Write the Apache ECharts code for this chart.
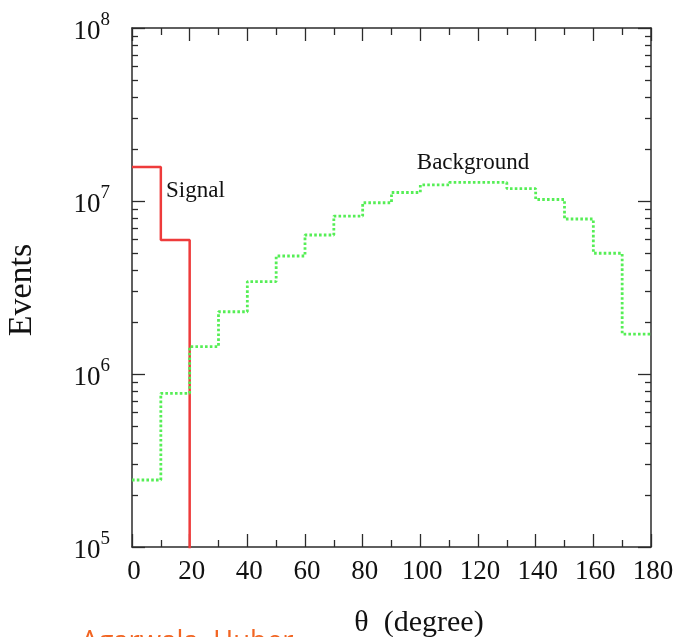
<!DOCTYPE html>
<html>
<head>
<meta charset="utf-8">
<script src="https://cdn.jsdelivr.net/npm/echarts@6/dist/echarts.min.js"></script>
<style>
html,body{margin:0;padding:0;background:#fff;}
#chart{width:681px;height:637px;}
</style>
</head>
<body>
<div id="chart"></div>
<script>
// bin edges (degrees) and counts per 10-degree bin
const binEdges = [0,10,20,30,40,50,60,70,80,90,100,110,120,130,140,150,160,170,180];
const backgroundCounts = [2.44e5, 7.73e5, 1.44e6, 2.29e6, 3.42e6, 4.81e6, 6.36e6, 8.18e6, 9.77e6,
  1.12e7, 1.24e7, 1.28e7, 1.28e7, 1.18e7, 1.02e7, 7.87e6, 4.99e6, 1.70e6];
const signalCounts = [1.57e7, 5.96e6, 0, 0, 0, 0, 0, 0, 0, 0, 0, 0, 0, 0, 0, 0, 0, 0];
const xTicks = [0,20,40,60,80,100,120,140,160,180];
const yMajorTicks = [1e5, 1e6, 1e7, 1e8];
const yMinorTicks = [];
[1e5, 1e6, 1e7].forEach(d => { for (let k = 2; k <= 9; k++) yMinorTicks.push(k * d); });

const FLOOR = 0.1; // empty bins drawn below the axis minimum (clipped)
function stepData(counts) {
  return binEdges.map((e, i) => {
    const v = counts[Math.min(i, counts.length - 1)];
    return [e, v > 0 ? v : FLOOR];
  });
}

const serif = 'Liberation Serif, Times New Roman, serif';
const axisColor = '#2b2b2b';

function yAxisDef(position, minor, labels) {
  return {
    type: 'log', logBase: 10, min: 1e5, max: 1e8, position: position,
    axisLine: { show: !minor, lineStyle: { color: axisColor, width: 1.5 } },
    splitLine: { show: false },
    axisTick: {
      show: true, inside: true, length: minor ? 6 : 13,
      customValues: minor ? yMinorTicks : yMajorTicks,
      lineStyle: { color: axisColor, width: 1.3 }
    },
    axisLabel: labels ? {
      show: true, margin: 22, customValues: yMajorTicks,
      formatter: v => '{b|10}{s|' + Math.round(Math.log10(v)) + '}',
      rich: {
        b: { fontFamily: serif, fontSize: 27, color: '#111', verticalAlign: 'bottom' },
        s: { fontFamily: serif, fontSize: 19, color: '#111', verticalAlign: 'bottom', padding: [0, 0, 16, 0] }
      }
    } : { show: false }
  };
}

function xAxisDef(position, labels) {
  return {
    type: 'value', min: 0, max: 180, interval: 20, position: position,
    axisLine: { show: true, onZero: false, lineStyle: { color: axisColor, width: 1.5 } },
    splitLine: { show: false },
    axisTick: { show: true, inside: true, length: 13, lineStyle: { color: axisColor, width: 1.3 } },
    minorTick: { show: true, splitNumber: 2, length: 7, lineStyle: { color: axisColor, width: 1.3 } },
    axisLabel: labels ? {
      show: true, margin: 11, fontFamily: serif, fontSize: 27, color: '#111',
      padding: [0, 0, 0, 4], customValues: xTicks
    } : { show: false }
  };
}

const chart = echarts.init(document.getElementById('chart'), null, { renderer: 'canvas' });
chart.setOption({
  animation: false,
  backgroundColor: '#fff',
  grid: { left: 132, top: 28, right: 30, bottom: 90, containLabel: false },
  xAxis: [xAxisDef('bottom', true), xAxisDef('top', false)],
  yAxis: [yAxisDef('left', false, true), yAxisDef('left', true, false),
          yAxisDef('right', false, false), yAxisDef('right', true, false)],
  series: [
    {
      name: 'Signal', type: 'line', step: 'end', xAxisIndex: 0, yAxisIndex: 0,
      data: stepData(signalCounts), symbol: 'none', clip: true,
      lineStyle: { color: '#ee3b3b', width: 2.5 }
    },
    {
      name: 'Background', type: 'line', step: 'end', xAxisIndex: 0, yAxisIndex: 0,
      data: stepData(backgroundCounts), symbol: 'none', clip: true,
      lineStyle: { color: '#55ee55', width: 2.8, type: [2.6, 2.2] }
    }
  ],
  graphic: [
    { type: 'text', x: 166, y: 191, style: { text: 'Signal', font: '23px ' + serif, fill: '#111', align: 'left', verticalAlign: 'middle' } },
    { type: 'text', x: 473, y: 163, style: { text: 'Background', font: '23px ' + serif, fill: '#111', align: 'center', verticalAlign: 'middle' } },
    { type: 'text', x: 22, y: 290, rotation: Math.PI / 2, style: { text: 'Events', font: '34px ' + serif, fill: '#111', align: 'center', verticalAlign: 'middle' } },
    { type: 'text', x: 419, y: 623, style: { text: 'θ  (degree)', font: '30px ' + serif, fill: '#111', align: 'center', verticalAlign: 'middle' } },
    { type: 'text', x: 81, y: 628, style: { text: 'Agarwala, Huber', font: '27.5px "Open Sans", sans-serif', fill: '#f26522', align: 'left', verticalAlign: 'top' } }
  ]
});
</script>
</body>
</html>
